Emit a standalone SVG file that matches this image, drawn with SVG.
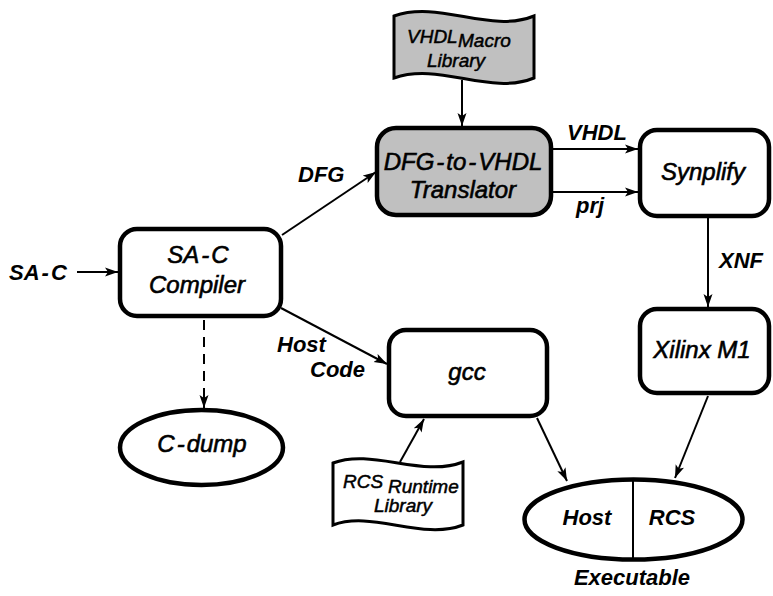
<svg xmlns="http://www.w3.org/2000/svg" width="773" height="596" viewBox="0 0 773 596">
<style>
.box{fill:#fff;stroke:#000;stroke-width:4.5}
.gray{fill:#c0c0c0}
.doc{stroke:#000;stroke-width:3;stroke-linejoin:miter}
.t{font-family:"Liberation Sans",Arial,sans-serif;font-style:italic;font-size:24px;fill:#000;stroke:#000;stroke-width:0.6;text-anchor:middle}
.lb{font-family:"Liberation Sans",Arial,sans-serif;font-style:italic;font-weight:bold;font-size:22px;fill:#000}
.d{font-family:"Liberation Sans",Arial,sans-serif;font-style:italic;font-size:19px;fill:#000;stroke:#000;stroke-width:0.5}
.c{fill:none;stroke:#000;stroke-width:2;marker-end:url(#ah)}
</style>
<defs>
<marker id="ah" markerUnits="userSpaceOnUse" markerWidth="14" markerHeight="10" refX="13" refY="5" orient="auto">
<path d="M0,0.5 L13,5 L0,9.5 L3,5 Z" fill="#000"/>
</marker>
</defs>
<g id="connectors">
<line class="c" x1="77" y1="272" x2="118" y2="272"/>
<line class="c" x1="282" y1="235" x2="376" y2="172"/>
<line class="c" x1="462" y1="80" x2="462" y2="126"/>
<line class="c" x1="553" y1="149" x2="638" y2="149"/>
<line class="c" x1="553" y1="192" x2="638" y2="192"/>
<line class="c" x1="708" y1="218" x2="708" y2="307"/>
<line class="c" x1="281" y1="308" x2="387" y2="364"/>
<line class="c" x1="204" y1="320" x2="204" y2="408" stroke-dasharray="10 7"/>
<line class="c" x1="400" y1="462" x2="424" y2="419"/>
<line class="c" x1="537" y1="418" x2="567" y2="481"/>
<line class="c" x1="708" y1="396" x2="675" y2="478"/>
<text class="lb" x="9" y="280">SA<tspan dx="2">-</tspan><tspan dx="2">C</tspan></text>
<text class="lb" x="298" y="182">DFG</text>
<text class="lb" x="567" y="140">VHDL</text>
<text class="lb" x="576" y="213">prj</text>
<text class="lb" x="719" y="268">XNF</text>
<text class="lb" x="277" y="352">Host</text>
<text class="lb" x="310" y="377">Code</text>
</g>
<g id="compiler">
<rect class="box" x="120" y="229" width="161" height="87" rx="17"/>
<text class="t" x="198" y="263">SA<tspan dx="2">-</tspan><tspan dx="2">C</tspan></text>
<text class="t" x="197" y="293">Compiler</text>
</g>
<g id="macro-library">
<path class="doc gray" d="M394,16 C440,0 490,34 534,16 L534,78 C490,96 440,62 394,78 Z"/>
<text class="d" x="407" y="43" font-size="18">VHDL</text>
<text class="d" x="458" y="47">Macro</text>
<text class="d" x="456" y="67" text-anchor="middle">Library</text>
</g>
<g id="translator">
<rect class="box gray" x="377" y="128" width="174" height="87" rx="19"/>
<text class="t" x="463" y="170" stroke-width="0.9">DFG<tspan dx="2">-</tspan><tspan dx="2">to</tspan><tspan dx="2">-</tspan><tspan dx="2">VHDL</tspan></text>
<text class="t" x="463" y="198">Translator</text>
</g>
<g id="synplify">
<rect class="box" x="640" y="130" width="129" height="86" rx="17"/>
<text class="t" x="703" y="180">Synplify</text>
</g>
<g id="xilinx">
<rect class="box" x="640" y="309" width="129" height="84" rx="17"/>
<text class="t" x="702" y="358">Xilinx M1</text>
</g>
<g id="gcc">
<rect class="box" x="389" y="330" width="158" height="86" rx="17"/>
<text class="t" x="467" y="380">gcc</text>
</g>
<g id="cdump">
<ellipse class="box" cx="201.5" cy="447.5" rx="81.5" ry="37.5"/>
<text class="t" x="202" y="452">C<tspan dx="2">-</tspan><tspan dx="2">dump</tspan></text>
</g>
<g id="runtime-library">
<path class="doc" fill="#fff" d="M333,463 C372,448 422,478 463,462 L463,525 C422,541 372,510 333,525 Z"/>
<text class="d" x="343" y="488" font-size="18">RCS</text>
<text class="d" x="388" y="493">Runtime</text>
<text class="d" x="403" y="512" text-anchor="middle">Library</text>
</g>
<g id="executable">
<ellipse class="box" cx="633.5" cy="519.5" rx="109" ry="40"/>
<line x1="633" y1="479" x2="633" y2="560" stroke="#000" stroke-width="2"/>
<text class="lb" x="587" y="525" text-anchor="middle">Host</text>
<text class="lb" x="672" y="525" text-anchor="middle">RCS</text>
<text class="lb" x="632" y="585" text-anchor="middle" font-size="24">Executable</text>
</g>
</svg>
